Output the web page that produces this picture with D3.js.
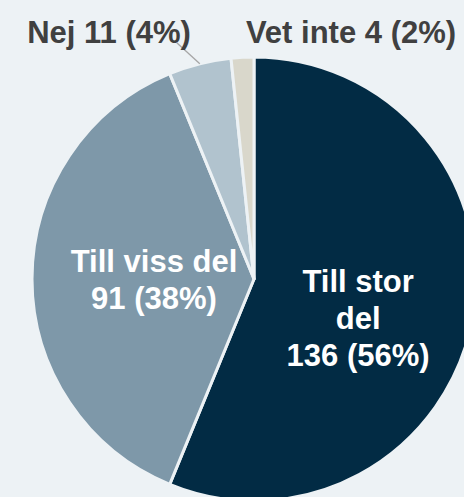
<!DOCTYPE html>
<html>
<head>
<meta charset="utf-8">
<title>Pie</title>
<script src="https://cdn.jsdelivr.net/npm/d3@7"></script>
<style>
  html, body { margin: 0; padding: 0; background: #edf2f5; }
  svg { display: block; }
  text { font-family: "Liberation Sans", Arial, sans-serif; font-weight: bold; font-size: 31px; }
</style>
</head>
<body>
<div id="chart"></div>
<script>
// data
const categories = ["Till stor del", "Till viss del", "Nej", "Vet inte"]
const counts = [136, 91, 11, 4]
const percents = [56, 38, 4, 2]
const colors = ["#022b44", "#7e98a9", "#b1c3ce", "#d9d7cb"]

const w = 464, h = 497
const cx = 254, cy = 279, radius = 222

const svg = d3.select("#chart").append("svg")
  .attr("width", w)
  .attr("height", h)

const g = svg.append("g").attr("transform", `translate(${cx},${cy})`)

const pie = d3.pie().sort(null).value(d => d)
const arcs = pie(counts)

const arc = d3.arc().innerRadius(0).outerRadius(radius)

g.selectAll("path.slice")
  .data(arcs)
  .enter()
  .append("path")
  .attr("class", "slice")
  .attr("d", arc)
  .attr("fill", (d, i) => colors[i])
  .attr("stroke", "#edf2f5")
  .attr("stroke-width", 3)
  .attr("stroke-linejoin", "round")

// inside labels (big slices)
const labelArc = d3.arc().innerRadius(100).outerRadius(100)
const inside = [
  { i: 0, lines: ["Till stor", "del", counts[0] + " (" + percents[0] + "%)"], dx: 6, dy: 20 },
  { i: 1, lines: ["Till viss del", counts[1] + " (" + percents[1] + "%)"], dx: 0, dy: 0 }
]
inside.forEach(lab => {
  const [x, y] = labelArc.centroid(arcs[lab.i])
  const n = lab.lines.length
  const lh = 37
  const t = g.append("text")
    .attr("text-anchor", "middle")
    .attr("fill", "#ffffff")
  lab.lines.forEach((line, k) => {
    t.append("tspan")
      .attr("x", x + lab.dx)
      .attr("y", y + lab.dy + (k - (n - 1) / 2) * lh + 11)
      .text(line)
  })
})

// outside labels (small slices)
const edgeArc = d3.arc().innerRadius(radius).outerRadius(radius)
const outside = [
  { i: 2, x: -145, y: -236, anchor: "middle", leader: true },
  { i: 3, x: 97, y: -236, anchor: "middle", leader: false }
]
outside.forEach(lab => {
  if (lab.leader) {
    const [sx, sy] = edgeArc.centroid(arcs[lab.i])
    g.append("line")
      .attr("x1", sx).attr("y1", sy)
      .attr("x2", sx - 23).attr("y2", sy - 21)
      .attr("stroke", "#a6a6a6")
      .attr("stroke-width", 1.3)
  }
  g.append("text")
    .attr("x", lab.x)
    .attr("y", lab.y)
    .attr("text-anchor", lab.anchor)
    .attr("fill", "#404040")
    .text(categories[lab.i] + " " + counts[lab.i] + " (" + percents[lab.i] + "%)")
})
</script>
</body>
</html>
